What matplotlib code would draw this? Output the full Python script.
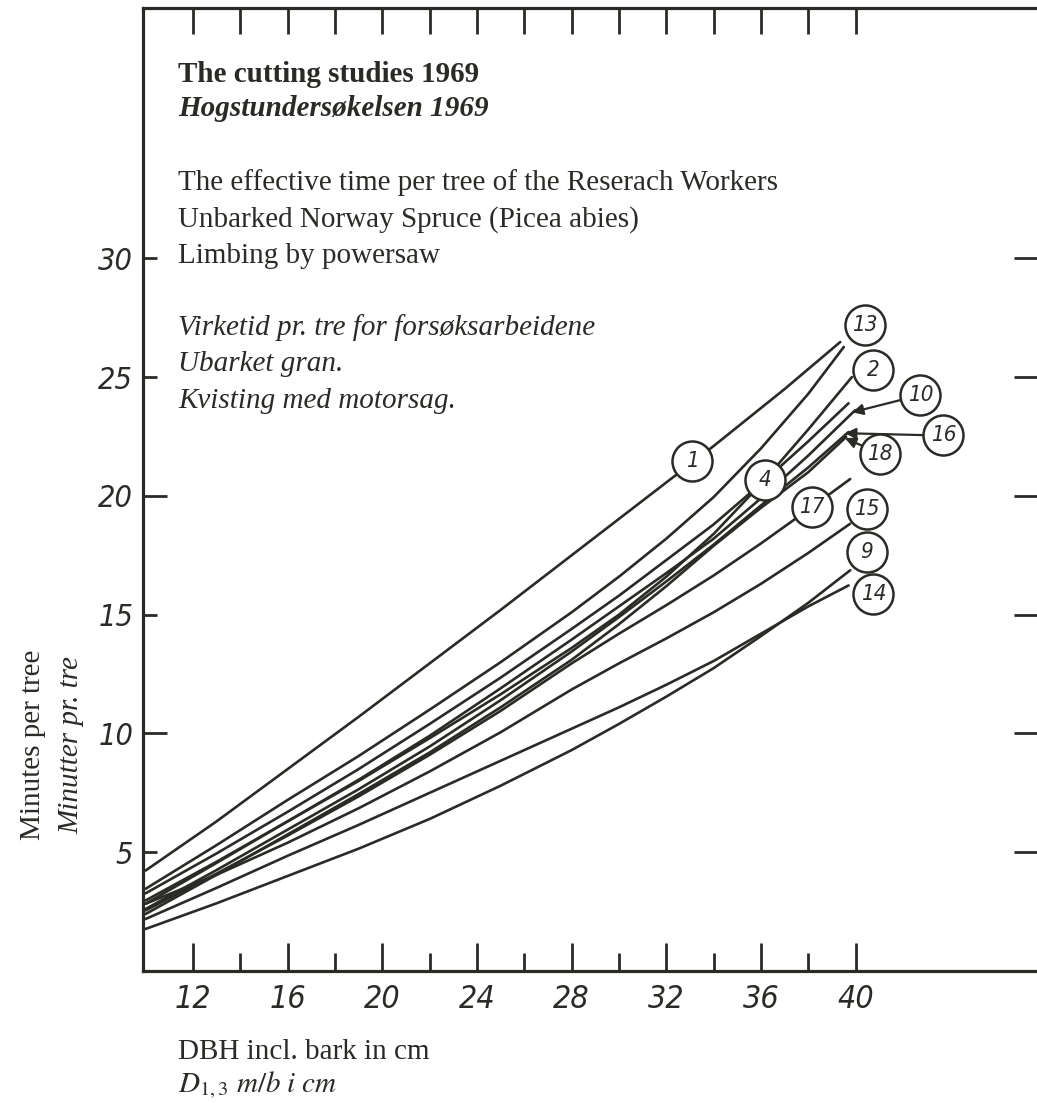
import matplotlib
matplotlib.use("Agg")
import matplotlib.pyplot as plt

# ---------------- data ----------------
curve_ids = ["1", "13", "2", "4", "10", "16", "18", "17", "15", "14", "9"]
curve_x = {
    "1":  [10, 13, 16, 19, 22, 25, 28, 31, 34, 37, 39.35],
    "13": [10, 13, 16, 19, 22, 25, 28, 30, 32, 34, 36, 38, 39.5],
    "2":  [10, 13, 16, 19, 22, 25, 28, 30, 32, 34, 36, 38, 39.84],
    "4":  [10, 13, 16, 19, 22, 25, 28, 30, 32, 34, 36.17, 38, 39.7],
    "10": [10, 13, 16, 19, 22, 25, 28, 30, 32, 34, 36, 38, 39.97],
    "16": [10, 13, 16, 19, 22, 25, 28, 30, 32, 34, 36, 38, 39.7],
    "18": [10, 13, 16, 19, 22, 25, 28, 30, 32, 34, 36, 38, 39.6],
    "17": [10, 13, 16, 19, 22, 25, 28, 30, 32, 34, 36, 38.15, 39.77],
    "15": [10, 13, 16, 19, 22, 25, 28, 30, 32, 34, 36, 38, 39.77],
    "14": [10, 13, 16, 19, 22, 25, 28, 30, 32, 34, 36, 38, 39.7],
    "9":  [10, 13, 16, 19, 22, 25, 28, 30, 32, 34, 36, 38, 39.77],
}
curve_y = {
    "1":  [4.23, 6.3, 8.5, 10.7, 12.95, 15.2, 17.5, 19.8, 22.1, 24.5, 26.48],
    "13": [3.46, 5.3, 7.2, 9.05, 11.0, 13.0, 15.1, 16.6, 18.2, 19.95, 22.0, 24.3, 26.27],
    "2":  [2.97, 4.6, 6.3, 8.0, 9.8, 11.65, 13.6, 15.0, 16.6, 18.4, 20.5, 22.8, 25.0],
    "4":  [3.27, 4.95, 6.7, 8.5, 10.4, 12.35, 14.4, 15.8, 17.3, 18.8, 20.66, 22.3, 23.9],
    "10": [2.83, 4.55, 6.3, 8.05, 9.9, 11.9, 13.95, 15.35, 16.75, 18.2, 19.9, 21.7, 23.6],
    "16": [2.61, 4.25, 5.95, 7.65, 9.45, 11.4, 13.45, 14.9, 16.4, 17.95, 19.6, 21.2, 22.69],
    "18": [2.40, 4.05, 5.75, 7.45, 9.2, 11.1, 13.1, 14.6, 16.2, 17.9, 19.5, 21.0, 22.48],
    "17": [2.55, 4.1, 5.7, 7.35, 9.1, 10.95, 12.95, 14.2, 15.4, 16.65, 18.0, 19.53, 20.71],
    "15": [2.83, 4.05, 5.4, 6.85, 8.4, 10.05, 11.85, 12.95, 14.0, 15.1, 16.3, 17.6, 18.83],
    "14": [2.19, 3.5, 4.85, 6.15, 7.5, 8.85, 10.2, 11.1, 12.05, 13.05, 14.2, 15.35, 16.23],
    "9":  [1.77, 2.85, 4.0, 5.15, 6.4, 7.8, 9.3, 10.4, 11.55, 12.75, 14.1, 15.5, 16.87],
}
# circled labels (position in data units)
label_text = ["1", "13", "2", "10", "16", "18", "4", "17", "15", "9", "14"]
label_x = [33.1, 40.40, 40.75, 42.73, 43.71, 41.03, 36.17, 38.15, 40.47, 40.47, 40.75]
label_y = [21.45, 27.19, 25.29, 24.24, 22.55, 21.78, 20.66, 19.53, 19.46, 17.64, 15.88]
# arrows from label circles to curve ends
arrow_tail = [(41.91, 24.04), (42.86, 22.56), (40.26, 22.12)]
arrow_head = [(39.85, 23.52), (39.55, 22.64), (39.55, 22.43)]

x_major = [12, 16, 20, 24, 28, 32, 36, 40]
x_minor = [14, 18, 22, 26, 30, 34, 38]
y_major = [5, 10, 15, 20, 25, 30]

title_lines = [
    ("The cutting studies 1969", "normal", "bold", 74),
    ("Hogstundersøkelsen 1969", "italic", "bold", 109),
    ("The effective time per tree of the Reserach Workers", "normal", "normal", 183),
    ("Unbarked Norway Spruce (Picea abies)", "normal", "normal", 219.5),
    ("Limbing by powersaw", "normal", "normal", 256),
    ("Virketid pr. tre for forsøksarbeidene", "italic", "normal", 328),
    ("Ubarket gran.", "italic", "normal", 364.5),
    ("Kvisting med motorsag.", "italic", "normal", 401),
]

# ---------------- figure ----------------
W, H = 1037, 1103
fig = plt.figure(figsize=(W / 100, H / 100), dpi=100)
ink = "#2a2a26"
fs_text = 21

left_px, right_px, bottom_px, top_px = 143, 1045, 971, 8
ax = fig.add_axes([left_px / W, (H - bottom_px) / H,
                   (right_px - left_px) / W, (bottom_px - top_px) / H])
ax.set_xlim(9.89, 48.0)
ax.set_ylim(0, 40.54)

for s in ax.spines.values():
    s.set_linewidth(2.3)
    s.set_color(ink)

for cid in curve_ids:
    ax.plot(curve_x[cid], curve_y[cid], color=ink, lw=1.9,
            solid_capstyle="round", solid_joinstyle="round", zorder=2)

# arrows
for (tx, ty), (hx, hy) in zip(arrow_tail, arrow_head):
    ax.annotate("", xy=(hx, hy), xytext=(tx, ty),
                arrowprops=dict(arrowstyle="-|>", lw=1.6, color=ink,
                                mutation_scale=16, shrinkA=0, shrinkB=0),
                zorder=3)

# circled labels
ax.scatter(label_x, label_y, s=830, facecolor="white", edgecolor=ink,
           linewidth=1.8, zorder=4, clip_on=False)
for t, lx, ly in zip(label_text, label_x, label_y):
    ax.text(lx, ly, t, ha="center", va="center", fontsize=16,
            fontstyle="italic", family="DejaVu Sans", fontstretch="condensed",
            color=ink, zorder=5)

# ticks
ax.set_xticks(x_major)
ax.set_xticks(x_minor, minor=True)
ax.set_xticklabels([str(v) for v in x_major])
ax.set_yticks(y_major)
ax.set_yticklabels([str(v) for v in y_major])
ax.tick_params(axis="x", which="major", direction="in", length=20, width=2,
               color=ink, pad=9, labelsize=23, bottom=True, top=False)
ax.tick_params(axis="x", which="minor", direction="in", length=13, width=2,
               color=ink, bottom=True, top=False)
ax.tick_params(axis="y", which="major", direction="in", length=16, width=2,
               color=ink, pad=7, labelsize=22, left=True, right=True)
for lab in ax.get_xticklabels() + ax.get_yticklabels():
    lab.set_fontstyle("italic")
    lab.set_family("DejaVu Sans")
    lab.set_fontstretch("condensed")
    lab.set_color(ink)
for t, v in zip(ax.yaxis.get_major_ticks(), y_major):
    t.tick1line.set_markersize(17 if v in (10, 20) else 10)
    t.tick2line.set_markersize(22)

top = ax.secondary_xaxis("top")
top.set_xticks(x_major + x_minor)
top.tick_params(direction="in", length=19, width=2, color=ink, labeltop=False)
top.spines["top"].set_visible(False)

# text block
for txt, style, weight, ypx in title_lines:
    fig.text(178 / W, 1 - ypx / H, txt, fontsize=fs_text, family="Liberation Serif",
             fontstyle=style, fontweight=weight, va="center", ha="left", color=ink)

# axis titles
fig.text(33 / W, 1 - 745 / H, "Minutes per tree", rotation=90, fontsize=fs_text,
         family="Liberation Serif", va="center", ha="center", color=ink)
fig.text(71 / W, 1 - 745 / H, "Minutter pr. tre", rotation=90, fontsize=fs_text,
         family="Liberation Serif", fontstyle="italic", va="center", ha="center", color=ink)
fig.text(178 / W, 1 - 1052 / H, "DBH incl. bark in cm", fontsize=fs_text,
         family="Liberation Serif", va="center", ha="left", color=ink)
plt.rcParams["mathtext.fontset"] = "stix"
fig.text(178 / W, 1 - 1085 / H, r"$\mathit{D_{1,3}}$$\mathit{\ m/b\ i\ cm}$",
         fontsize=fs_text, va="center", ha="left", color=ink)

fig.savefig("out.png", dpi=100, facecolor="white")
